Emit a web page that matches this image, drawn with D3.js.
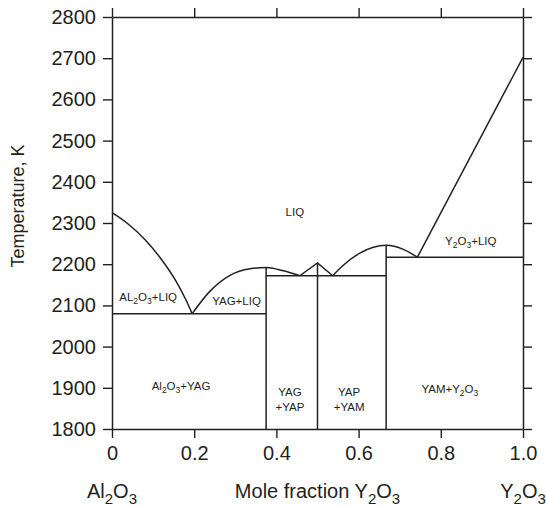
<!DOCTYPE html>
<html>
<head>
<meta charset="utf-8">
<script src="https://cdn.jsdelivr.net/npm/d3@7"></script>
<style>
  body { margin: 0; background: #fff; }
  text { font-family: "Liberation Sans", Arial, sans-serif; fill: #231f20; }
</style>
</head>
<body>
<script>
// tick values / labels
let yTicks = [1800, 1900, 2000, 2100, 2200, 2300, 2400, 2500, 2600, 2700, 2800];
let xTicks = [0, 0.2, 0.4, 0.6, 0.8, 1.0];
let xTickLabels = ["0", "0.2", "0.4", "0.6", "0.8", "1.0"];

// liquidus curves [mole fraction Y2O3, T (K)]
let al2o3Liquidus = [[0, 2325], [0.04, 2297], [0.08, 2260], [0.12, 2212], [0.155, 2160], [0.18, 2113], [0.195, 2080]];
let yagLiquidus = [[0.195, 2080], [0.238, 2134], [0.287, 2173], [0.336, 2189], [0.375, 2192], [0.417, 2184], [0.457, 2172]];
let yapLiquidus = [[0.457, 2172], [0.5, 2203], [0.537, 2172]];
let yamLiquidus = [[0.537, 2172], [0.56, 2195], [0.603, 2227], [0.667, 2246], [0.709, 2236], [0.743, 2217]];
let y2o3Liquidus = [[0.743, 2217], [1.0, 2702]];

// eutectic lines: [T, x from, x to]
let invariants = [[2080, 0, 0.375], [2172, 0.375, 0.667], [2217, 0.667, 1.0]];
// compounds: [x, melting T]
let compounds = [[0.375, 2192], [0.5, 2203], [0.667, 2246]];

// phase field labels: [text lines, x, T of first baseline]
let fieldLabels = [
  [["LIQ"], 0.445, 2318],
  [["AL2O3+LIQ"], 0.088, 2110],
  [["YAG+LIQ"], 0.303, 2100],
  [["Al2O3+YAG"], 0.168, 1894],
  [["YAG", "+YAP"], 0.433, 1879],
  [["YAP", "+YAM"], 0.577, 1879],
  [["YAM+Y2O3"], 0.822, 1887],
  [["Y2O3+LIQ"], 0.873, 2246]
];

let margin = { top: 17, left: 112, bottom: 77, right: 23 };
let W = 546, H = 506;
let width = W - margin.left - margin.right;
let height = H - margin.top - margin.bottom;
let ink = "#231f20";

let svg = d3.select("body").append("svg").attr("width", W).attr("height", H);
let g = svg.append("g").attr("transform", "translate(" + margin.left + "," + margin.top + ")");

let x = d3.scaleLinear().domain([0, 1]).range([0, width]);
let y = d3.scaleLinear().domain([1800, 2800]).range([height, 0]);

// write a formula with digits as subscripts
function chem(sel, str, subSize, shift) {
  let parts = str.split(/(\d)/).filter(function(p) { return p !== ""; });
  let down = false;
  parts.forEach(function(p) {
    let isSub = /^\d$/.test(p);
    let t = sel.append("tspan").text(p);
    if (isSub) {
      t.attr("font-size", subSize);
      if (!down) { t.attr("dy", shift); down = true; }
    } else if (down) {
      t.attr("dy", -shift);
      down = false;
    }
  });
}

// axes
function styleAxis(a) {
  a.selectAll("path, line").attr("stroke", ink).attr("stroke-width", 1.4);
  a.selectAll("text").attr("font-size", 20).attr("fill", ink);
}

let axLeft = g.append("g").call(d3.axisLeft(y).tickValues(yTicks).tickFormat(d3.format("d")).tickSize(9).tickSizeOuter(0).tickPadding(7));
let axRight = g.append("g").attr("transform", "translate(" + width + ",0)").call(d3.axisRight(y).tickValues(yTicks).tickFormat("").tickSize(9).tickSizeOuter(0));
let axBottom = g.append("g").attr("transform", "translate(0," + height + ")").call(d3.axisBottom(x).tickValues(xTicks).tickFormat(function(d, i) { return xTickLabels[i]; }).tickSize(9).tickSizeOuter(0).tickPadding(8));
let axTop = g.append("g").call(d3.axisTop(x).tickValues(xTicks).tickFormat("").tickSize(9).tickSizeOuter(0));
[axLeft, axRight, axBottom, axTop].forEach(styleAxis);
svg.selectAll(".domain").attr("stroke-width", 1.5);

// phase boundaries
let smooth = d3.line().x(function(d) { return x(d[0]); }).y(function(d) { return y(d[1]); }).curve(d3.curveMonotoneX);
let straight = d3.line().x(function(d) { return x(d[0]); }).y(function(d) { return y(d[1]); });

let lines = g.append("g").attr("fill", "none").attr("stroke", ink).attr("stroke-width", 1.5);
[al2o3Liquidus, yagLiquidus, yamLiquidus].forEach(function(c) {
  lines.append("path").attr("d", smooth(c));
});
[yapLiquidus, y2o3Liquidus].forEach(function(c) {
  lines.append("path").attr("d", straight(c));
});

lines.selectAll(".inv").data(invariants).enter().append("line")
  .attr("x1", function(d) { return x(d[1]); })
  .attr("x2", function(d) { return x(d[2]); })
  .attr("y1", function(d) { return y(d[0]); })
  .attr("y2", function(d) { return y(d[0]); });

lines.selectAll(".cmp").data(compounds).enter().append("line")
  .attr("x1", function(d) { return x(d[0]); })
  .attr("x2", function(d) { return x(d[0]); })
  .attr("y1", function(d) { return y(d[1]); })
  .attr("y2", y(1800));

// field labels
fieldLabels.forEach(function(l) {
  l[0].forEach(function(s, i) {
    let t = g.append("text")
      .attr("x", x(l[1]))
      .attr("y", y(l[2]) + i * 14.5)
      .attr("text-anchor", "middle")
      .attr("font-size", 11.5);
    chem(t, s, 8.5, 3);
  });
});

// axis titles
let xt = svg.append("text").attr("x", margin.left + width / 2).attr("y", 498).attr("text-anchor", "middle").attr("font-size", 20);
chem(xt, "Mole fraction Y2O3", 15, 6);
let lt = svg.append("text").attr("x", margin.left + x(0)).attr("y", 498).attr("text-anchor", "middle").attr("font-size", 20);
chem(lt, "Al2O3", 15, 6);
let rt = svg.append("text").attr("x", margin.left + x(1)).attr("y", 498).attr("text-anchor", "middle").attr("font-size", 20);
chem(rt, "Y2O3", 15, 6);

svg.append("text")
  .attr("transform", "translate(24," + 206 + ") rotate(-90)")
  .attr("text-anchor", "middle")
  .attr("font-size", 18)
  .text("Temperature, K");
</script>
</body>
</html>
